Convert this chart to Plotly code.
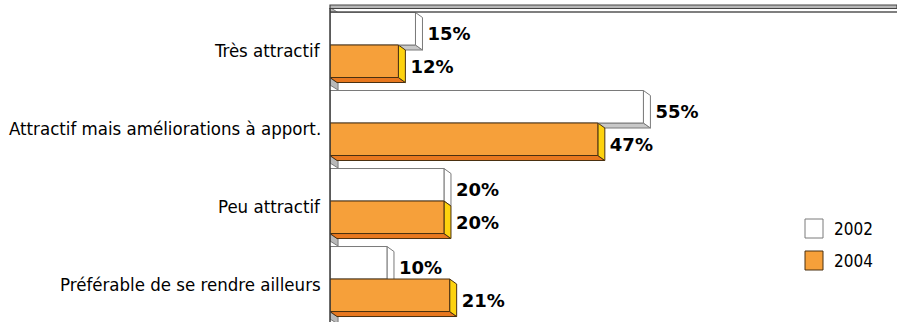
import plotly.graph_objects as go

categories = ["Très attractif", "Attractif mais améliorations à apport.",
              "Peu attractif", "Préférable de se rendre ailleurs"]
series_names = ["2002", "2004"]
values_2002 = [15, 55, 20, 10]
values_2004 = [12, 47, 20, 21]
labels_2002 = ["15%", "55%", "20%", "10%"]
labels_2004 = ["12%", "47%", "20%", "21%"]

# ---- layout geometry (pixels) ----
W, H = 897, 322
ML = 330
XMAX = 99.5
px_x = (W - ML) / XMAX
Y_TOP, Y_BOT = -0.577, 3.551
px_y = H / (Y_BOT - Y_TOP)
BAR_W = 32.5 / px_y
DX = 7 / px_x
DY = 5 / px_y

FONT = "DejaVu Sans Condensed"
WHITE_FACE, WHITE_SIDE, WHITE_BOTTOM, WHITE_LINE = "#ffffff", "#ffffff", "#c8c8c8", "#7a7a7a"
OR_FACE, OR_SIDE, OR_BOTTOM, OR_LINE = "#f6a03a", "#fdd20e", "#e8781f", "#4a3010"

pos = list(range(len(categories)))

fig = go.Figure()
shapes = []
annotations = []

def path(pts):
    return "M " + " L ".join(f"{x},{y}" for x, y in pts) + " Z"

series = [
    (series_names[0], values_2002, labels_2002, -BAR_W, WHITE_FACE, WHITE_SIDE, WHITE_BOTTOM, WHITE_LINE),
    (series_names[1], values_2004, labels_2004, 0.0, OR_FACE, OR_SIDE, OR_BOTTOM, OR_LINE),
]

# 3D side/bottom faces (drawn below bar fronts)
for i in pos:
    b = i + BAR_W + 0.5 / px_y
    shapes.append(dict(type="path", xref="x", yref="y", layer="below",
                       path=path([(0, b), (DX * 1.15, b + DY), (DX * 1.15, b + DY + 7 / px_y), (0, b + 7 / px_y)]),
                       fillcolor="#b9b9b9", line=dict(color="#7a7a7a", width=1)))
    for name, vals, labs, off, face, side, bottom, lc in series:
        v = vals[i]
        top = i + off
        bot = top + BAR_W
        shapes.append(dict(type="path", xref="x", yref="y", layer="below",
                           path=path([(0, bot), (v, bot), (v + DX, bot + DY), (DX, bot + DY)]),
                           fillcolor=bottom, line=dict(color=lc, width=1)))
        shapes.append(dict(type="path", xref="x", yref="y", layer="below",
                           path=path([(v, top), (v + DX, top + DY), (v + DX, bot + DY), (v, bot)]),
                           fillcolor=side, line=dict(color=lc, width=1)))

t0 = 0 - BAR_W
shapes.append(dict(type="path", xref="x", yref="y", layer="below",
                   path=path([(0, t0 - DY), (DX * 1.15, t0), (0, t0)]),
                   fillcolor="#b9b9b9", line=dict(color="#7a7a7a", width=1)))

# bar fronts
for name, vals, labs, off, face, side, bottom, lc in series:
    fig.add_trace(go.Bar(
        y=pos, x=vals, orientation="h", width=BAR_W, offset=off, base=0,
        marker=dict(color=face, line=dict(color=lc, width=1)),
        name=name, showlegend=False, hoverinfo="skip"))

# value labels
for name, vals, labs, off, face, side, bottom, lc in series:
    fig.add_trace(go.Scatter(
        y=[i + off + BAR_W / 2 + DY * 0.8 + 3 / px_y for i in pos],
        x=[v + DX + 5 / px_x for v in vals],
        mode="text", text=labs, textposition="middle right",
        textfont=dict(family="DejaVu Sans", size=18, color="black", weight="bold"),
        showlegend=False, hoverinfo="skip", cliponaxis=False))

# category labels
for i, c in zip(pos, categories):
    annotations.append(dict(x=0, xref="paper", y=i + 5 / px_y, yref="y",
                            text=c, showarrow=False, xanchor="right", yanchor="middle",
                            xshift=-7, font=dict(family=FONT, size=18.5, color="black")))

def py(p):
    return 1 - p / H

shapes.append(dict(type="rect", xref="paper", yref="paper", x0=0, x1=1, y0=py(8.5), y1=py(5),
                   fillcolor="#b8b8b8", line=dict(color="#444444", width=1.2), layer="above"))
shapes.append(dict(type="line", xref="paper", yref="paper", x0=0, x1=1, y0=py(12), y1=py(12),
                   line=dict(color="#555555", width=1.5), layer="above"))
shapes.append(dict(type="line", xref="paper", yref="paper", x0=0, x1=0, y0=py(8), y1=0,
                   line=dict(color="#3a3a3a", width=1.5), layer="above"))

def px2paper_x(p):
    return (p - ML) / (W - ML)

leg = [(series_names[0], WHITE_FACE, WHITE_LINE, 219), (series_names[1], OR_FACE, OR_LINE, 251)]
for name, fc, lc, ytop in leg:
    shapes.append(dict(type="rect", xref="paper", yref="paper",
                       x0=px2paper_x(805), x1=px2paper_x(823), y0=py(ytop + 19), y1=py(ytop),
                       fillcolor=fc, line=dict(color=lc, width=1)))
    annotations.append(dict(x=px2paper_x(832), xref="paper", y=py(ytop + 10), yref="paper",
                            text=name, showarrow=False, xanchor="left", yanchor="middle",
                            font=dict(family=FONT, size=17, color="black")))

fig.update_layout(
    width=W, height=H,
    margin=dict(l=ML, r=0, t=0, b=0),
    paper_bgcolor="white", plot_bgcolor="white",
    barmode="overlay",
    xaxis=dict(range=[0, XMAX], visible=False, fixedrange=True),
    yaxis=dict(range=[Y_BOT, Y_TOP], visible=False, fixedrange=True),
    shapes=shapes, annotations=annotations,
    showlegend=False,
)

fig.write_html("out.html")
